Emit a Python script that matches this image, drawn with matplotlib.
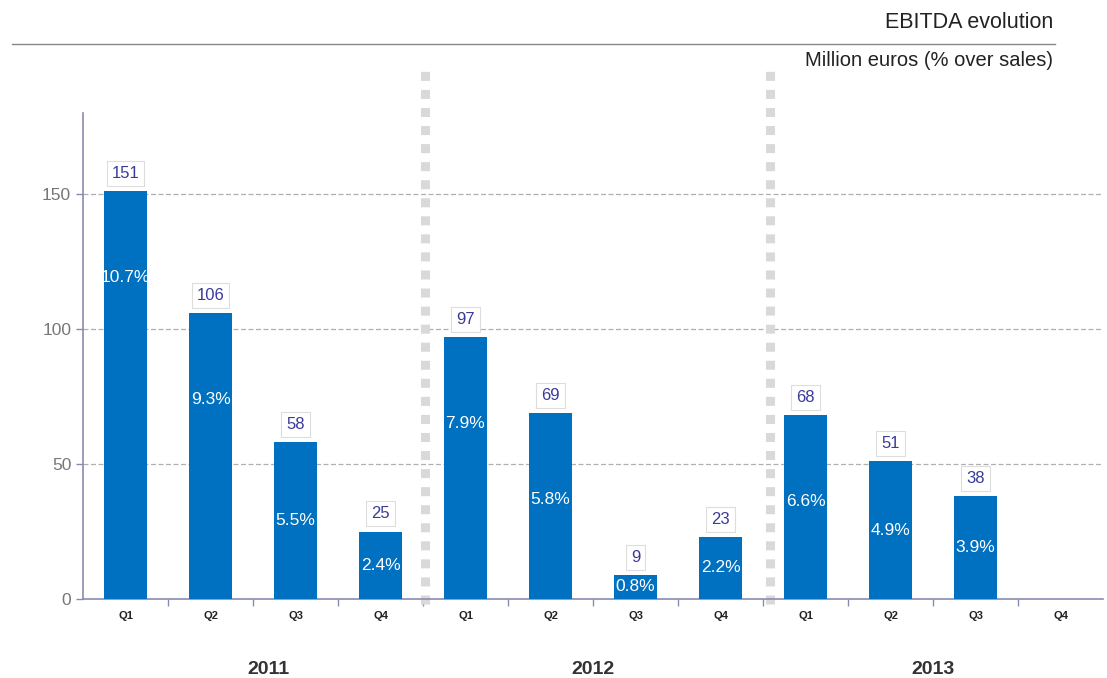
import numpy as np
import matplotlib
matplotlib.use("Agg")
import matplotlib.pyplot as plt

# --- data ---
quarters = ["Q1", "Q2", "Q3", "Q4"] * 3
years = ["2011", "2012", "2013"]
ebitda = [151, 106, 58, 25, 97, 69, 9, 23, 68, 51, 38, np.nan]
margin = ["10.7%", "9.3%", "5.5%", "2.4%", "7.9%", "5.8%", "0.8%", "2.2%",
          "6.6%", "4.9%", "3.9%", ""]
y_ticks = [0, 50, 100, 150]

BAR = "#0070C0"
AXIS = "#8a8ab0"

plt.rcParams['font.family'] = ['Liberation Sans', 'DejaVu Sans']

fig = plt.figure(figsize=(11.07, 6.78), dpi=100)
ax = fig.add_axes([83 / 1107, 1 - 599 / 678, 1020 / 1107, 486 / 678])

x = np.arange(len(ebitda))
ax.bar(x, ebitda, width=0.5, color=BAR, zorder=3)

ax.set_xlim(-0.5, len(ebitda) - 0.5)
ax.set_ylim(0, 180)

# grid
for v in y_ticks[1:]:
    ax.axhline(v, color="#b0b0b0", lw=0.9, ls=(0, (4, 2)), zorder=1)

# labels on bars
for xi, v, m in zip(x, ebitda, margin):
    if np.isnan(v):
        continue
    ax.text(xi, v + 6.5, f"{int(v)}", ha="center", va="center", fontsize=12,
            color="#3a3a9a", zorder=4,
            bbox=dict(boxstyle="square,pad=0.3", fc="white", ec="#dddddd", lw=0.8))
    ax.text(xi, v - min(32, 0.5 * v), m, ha="center", va="center",
            fontsize=12.5, color="white", zorder=4)

# year dividers
for xd in [3.52, 7.58]:
    ax.plot([xd, xd], [-2, 196], color="#d9d9d9", lw=6.5, ls=(0, (1, 1.0)),
            clip_on=False, zorder=2, solid_capstyle="butt")

# axes styling
for s in ["top", "right"]:
    ax.spines[s].set_visible(False)
for s in ["left", "bottom"]:
    ax.spines[s].set_color(AXIS)
    ax.spines[s].set_linewidth(1.2)

ax.set_yticks(y_ticks)
ax.tick_params(axis="y", colors=AXIS, labelcolor="#777777", labelsize=12.5,
               length=5, width=1)
ax.set_xticks(np.arange(0.5, len(ebitda) - 0.5, 1))
ax.set_xticklabels([])
ax.tick_params(axis="x", colors=AXIS, length=5, width=1)

for xi, q in zip(x, quarters):
    ax.text(xi, -6.3, q, ha="center", va="center", fontsize=8,
            fontweight="bold", color="#222222")

for i, yr in enumerate(years):
    ax.text(4 * i + 1.5 + (0.18 if i == 0 else 0), -26, yr, ha="center",
            va="center", fontsize=14, fontweight="bold", color="#333333")

# header
fig.text(1053 / 1107, 1 - 22 / 678, "EBITDA evolution", ha="right",
         va="center", fontsize=15.5, color="#222222")
fig.add_artist(plt.Line2D([12 / 1107, 1055 / 1107], [1 - 44 / 678, 1 - 44 / 678],
                          color="#888888", lw=1))
fig.text(1053 / 1107, 1 - 61 / 678, "Million euros (% over sales)", ha="right",
         va="center", fontsize=14.5, color="#222222")

fig.savefig("out.png", dpi=100)
